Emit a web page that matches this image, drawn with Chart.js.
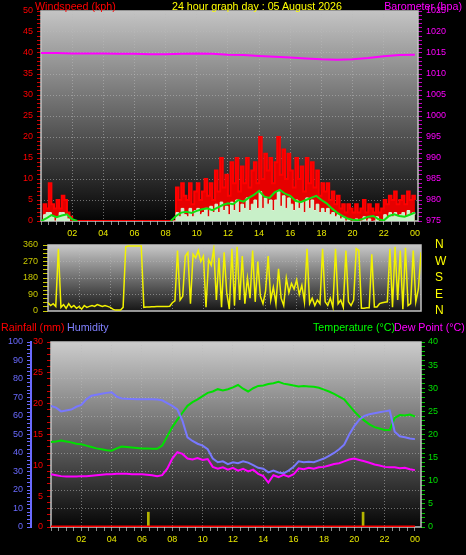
<!DOCTYPE html>
<html><head><meta charset="utf-8">
<script src="https://cdn.jsdelivr.net/npm/chart.js@4.4.1/dist/chart.umd.min.js"></script>
<style>
html,body{margin:0;padding:0;background:#000;width:466px;height:555px;overflow:hidden;}
canvas{position:absolute;left:0;}
.h{position:absolute;font:10.7px "Liberation Sans",Arial,sans-serif;line-height:12px;white-space:nowrap;z-index:5;}
</style></head><body>
<canvas id="c1" width="466" height="245" style="top:0;width:466px;height:245px"></canvas>
<canvas id="c2" width="466" height="80" style="top:238px;width:466px;height:80px"></canvas>
<canvas id="c3" width="466" height="220" style="top:335px;width:466px;height:220px"></canvas>
<div class="h" style="left:35px;top:0;color:#ff0000">Windspeed (kph)</div>
<div class="h" style="left:172px;top:0;color:#ffff00">24 hour graph day : 05 August 2026</div>
<div class="h" style="right:4px;top:0;color:#ff00ff">Barometer (hpa)</div>
<div class="h" style="left:1px;top:321px;color:#ff0000">Rainfall (mm)</div>
<div class="h" style="left:67px;top:321px;color:#8080ff">Humidity</div>
<div class="h" style="left:313px;top:321px;color:#00ff00">Temperature (°C)</div>
<div class="h" style="left:394px;top:321px;color:#ff00ff">Dew Point (°C)</div>
<script>
// ===== DATA =====
// hour axis tick labels (every 2 h)
const hourLabels = ['', '02', '04', '06', '08', '10', '12', '14', '16', '18', '20', '22', '00'];
// compass labels for wind direction (0, 90, 180, 270, 360)
const compass = ['N', 'E', 'S', 'W', 'N'];

// wind gust, kph, every 10 min from 00:00 to 24:00
const windGust = [
  0,4,3,9,4,3,5,3,6,5,2,1,
  0,0,0,0,0,0,0,0,0,0,0,0,
  0,0,0,0,0,0,0,0,0,0,0,0,
  0,0,0,0,0,0,0,0,0,0,0,0,
  0,0,0,0,8,5,9,6,5,9,4,7,
  9,5,7,10,6,9,5,12,7,15,8,11,
  6,14,9,15,7,13,9,15,8,12,14,9,
  20,10,16,12,15,9,14,20,11,17,10,16,
  12,8,15,10,13,7,15,9,14,8,12,6,
  9,7,9,5,7,4,6,3,4,2,4,3,
  2,4,2,3,5,2,4,3,2,4,2,3,
  5,4,6,5,7,4,5,6,4,7,5,6,
  5
];
// average wind speed, kph, every 10 min
const windAvg = [
  0,1.5,2,2,1,0,1,2,2,1.5,0.5,0,
  0,0,0,0,0,0,0,0,0,0,0,0,
  0,0,0,0,0,0,0,0,0,0,0,0,
  0,0,0,0,0,0,0,0,0,0,0,0,
  0,0,0,0,2,1,3,1.5,1,3,1,2.5,
  3,1.5,2,3,1,3.5,2,4,2,4.5,2.5,3.5,
  1.5,4.5,2.5,5,2,4,3,5.5,2.5,4,5,3,
  7,3,5.5,4,5,2.5,5,7,3.5,6,3,5.5,
  4,2.5,5,3,4.5,2,5.5,3,5,2.5,4,2,
  3,2,3,1.5,2,1,1.5,0.5,1,0,0.5,0,
  0,0.5,0,0,1,0,0.5,0,0,1,0,0,
  1.5,1,2,1,2,1,1.5,2,1,2.5,1.5,2,
  1.5
];
// smoothed average wind, kph, every 20 min
const windAvgSmooth = [
  0,0.6,1.4,0.9,1.3,1.6,
  0.4,0,0,0,0,0,
  0,0,0,0,0,0,
  0,0,0,0,0,0,
  0,0,1.2,2.0,2.2,1.9,
  2.4,2.8,3.0,2.6,3.2,3.8,
  4.2,4.0,5.0,4.6,5.5,6.2,
  7.2,5.8,5.5,6.8,7.4,6.5,
  6.0,4.8,4.5,5.0,5.5,6.0,
  5.0,4.2,3.0,2.0,1.2,0.6,
  0.3,0.2,0.5,1.0,1.2,0.4,
  0.1,1.2,1.6,1.2,1.0,1.5,
  2.0
];
// barometer, hPa, hourly
const barometer = [1015.0,1015.0,1014.9,1014.9,1014.9,1014.8,1014.8,1014.7,1014.7,1014.8,1014.9,1014.8,
  1014.6,1014.5,1014.3,1014.1,1013.9,1013.7,1013.5,1013.4,1013.5,1013.8,1014.2,1014.5,1014.6];
// wind direction, degrees, every 10 min
const windDir = [
  45,30,40,25,340,20,35,15,40,20,30,15,
  25,10,30,20,25,30,25,35,30,25,30,25,
  20,10,5,5,5,20,350,355,355,355,355,355,
  355,20,22,22,23,23,24,24,25,25,25,26,
  45,55,330,60,80,300,320,40,310,290,330,270,
  300,20,280,250,340,60,290,20,320,100,10,340,
  30,350,60,300,40,180,70,330,50,270,80,40,
  110,300,60,130,40,230,70,30,180,100,150,120,
  170,90,140,50,340,40,70,30,60,40,340,50,
  30,70,20,340,40,60,20,330,50,30,60,340,
  330,15,15,18,18,310,22,22,40,45,48,50,
  340,20,350,60,330,10,345,30,40,330,50,120,
  320
];
// temperature, °C, every 20 min
const temperature = [
  18.4,18.5,18.7,18.5,18.3,18.0,
  17.9,17.6,17.3,17.0,16.8,16.6,
  16.5,17.0,17.4,17.3,17.2,17.1,
  17.0,17.0,16.9,16.9,17.6,19.6,
  21.6,23.2,24.7,26.2,27.0,27.6,
  28.3,29.0,29.3,29.8,29.5,29.8,
  30.2,30.7,29.9,29.3,30.0,30.5,
  30.6,30.9,31.1,31.4,31.0,30.8,
  30.6,30.4,30.5,30.4,30.3,30.1,
  29.7,29.3,28.8,28.2,27.6,26.3,
  25.0,23.9,23.0,22.2,21.6,21.3,
  21.0,21.0,23.6,24.2,24.1,24.3,
  23.9
];
// humidity, %, every 20 min
const humidity = [
  65.5,64.5,62.5,63.0,63.5,65.0,
  66.0,69.0,71.0,71.5,72.0,72.5,
  72.8,70.5,69.5,69.3,69.2,69.0,
  69.0,69.0,69.0,68.9,68.5,67.0,
  65.5,63.5,57.5,48.5,46.5,45.0,
  44.0,42.0,37.0,35.0,35.5,34.0,
  35.0,34.5,35.5,34.8,33.5,32.0,
  31.5,29.5,30.5,29.5,29.0,30.5,
  32.5,35.5,35.0,35.3,35.0,36.0,
  37.0,38.5,40.0,42.0,44.5,50.0,
  54.5,58.0,60.0,61.0,61.5,62.0,
  62.5,63.0,51.5,49.0,48.5,47.8,
  47.5
];
// dew point, °C, every 20 min
const dewPoint = [
  11.4,11.2,11.0,10.9,10.9,10.9,
  11.0,11.0,11.1,11.2,11.3,11.4,
  11.4,11.5,11.5,11.5,11.4,11.4,
  11.4,11.3,11.2,11.0,11.2,12.6,
  14.8,16.2,15.8,14.8,14.6,14.9,
  14.5,14.7,13.0,12.6,12.9,12.4,
  12.8,12.2,12.6,12.0,12.4,11.5,
  11.0,9.6,11.2,10.8,11.3,10.9,
  11.4,12.7,12.5,12.8,12.6,12.9,
  13.0,13.3,13.6,13.8,14.2,14.6,
  14.8,14.5,14.2,13.9,13.5,13.3,
  13.0,12.9,12.9,12.7,12.8,12.5,
  12.3
];
// rainfall total, mm, hourly
const rainTotal = [0,0,0,0,0,0,0,0,0,0,0,0,0,0,0,0,0,0,0,0,0,0,0,0,0];
// rain rate bars: time (h) and value (mm)
const rainRateTimes = [6.42, 20.58];
const rainRate = [2.4, 2.4];

// ===== HELPERS =====
const FONT = {family: '"Liberation Sans", Arial, sans-serif', size: 9};
const gridCol = 'rgba(185,185,185,0.55)';
const xy = (arr, step) => arr.map((v, i) => ({x: i * step, y: v}));
const fixW = w => s => { s.width = w; s.paddingTop = 0; s.paddingBottom = 0; };
const fixH = h => s => { s.height = h; s.paddingLeft = 0; s.paddingRight = 0; };
function hourTick(v) {
  const r = Math.round(v);
  if (Math.abs(v - r) > 1e-6 || r % 2) return '';
  return hourLabels[r / 2] || '';
}
function hourGrid(c) {
  const v = c.tick.value, r = Math.round(v);
  return (Math.abs(v - r) < 1e-6 && r % 2 === 0 && r > 0 && r < 24) ? gridCol : 'transparent';
}
const every = (n, lo, hi) => c => {
  const v = c.tick.value;
  return (Math.abs(v / n - Math.round(v / n)) < 1e-6 && v > lo && v < hi) ? gridCol : 'transparent';
};
const labelEvery = n => v => (Math.abs(v / n - Math.round(v / n)) < 1e-6) ? String(Math.round(v)) : '';

const bgPlugin = {
  id: 'bg',
  beforeDraw(chart, args, o) {
    const {ctx, chartArea: a} = chart;
    const g = ctx.createLinearGradient(0, a.top, 0, a.bottom);
    g.addColorStop(0, o.top);
    g.addColorStop(1, o.bottom);
    ctx.save();
    ctx.fillStyle = g;
    ctx.fillRect(a.left, a.top, a.right - a.left, a.bottom - a.top);
    ctx.restore();
  },
  beforeDatasetsDraw(chart) {
    const {ctx, chartArea: a} = chart;
    ctx.save();
    ctx.strokeStyle = '#c4c4c4';
    ctx.lineWidth = 1.5;
    ctx.strokeRect(a.left, a.top, a.right - a.left, a.bottom - a.top);
    ctx.restore();
  }
};
const common = {
  responsive: false, animation: false, events: [],
  elements: {point: {radius: 0}, line: {tension: 0}},
};
// hide flat zero segments of the smoothed wind line (the gust baseline shows there)
const hideZero = c => (c.p0.parsed.y === 0 && c.p1.parsed.y === 0) ? 'transparent' : undefined;

// ===== CHART 1: wind + barometer =====
new Chart(document.getElementById('c1'), {
  type: 'line',
  data: {datasets: [
    {label: 'Barometer', data: xy(barometer, 1), yAxisID: 'baro', borderColor: '#ff00ff', borderWidth: 2, order: 0},
    {label: 'Wind avg (smoothed)', data: xy(windAvgSmooth, 1 / 3), yAxisID: 'wind', borderColor: '#10e010', borderWidth: 2, order: 1,
      segment: {borderColor: hideZero}},
    {label: 'Wind avg', data: xy(windAvg, 1 / 6), yAxisID: 'wind', stepped: true, fill: 'origin', backgroundColor: '#c8f0c8', borderColor: '#d6f6d6', borderWidth: 1, order: 2,
      segment: {borderColor: hideZero}},
    {label: 'Wind gust', data: xy(windGust, 1 / 6), yAxisID: 'wind', stepped: true, fill: 'origin', backgroundColor: '#e60000', borderColor: '#ff0000', borderWidth: 2, order: 3}
  ]},
  options: Object.assign({}, common, {
    layout: {padding: {top: 11, left: 0, right: 0, bottom: 0}},
    plugins: {legend: {display: false}, tooltip: {enabled: false}, bg: {top: '#c4c4c4', bottom: '#040404'}},
    scales: {
      x: {type: 'linear', min: 0, max: 24.2, afterFit: fixH(24),
        ticks: {stepSize: 0.5, includeBounds: false, autoSkip: false, maxRotation: 0, color: '#e8e800', font: FONT, padding: 3, callback: hourTick},
        grid: {color: hourGrid, tickColor: '#8c8c8c', tickLength: 4}, border: {display: false, dash: [1, 2]}},
      wind: {position: 'left', min: 0, max: 50, afterFit: fixW(41),
        ticks: {stepSize: 1, autoSkip: false, color: '#ff0000', font: FONT, padding: 4, callback: labelEvery(5)},
        grid: {color: every(5, 0, 50), tickColor: '#d00000', tickLength: 4}, border: {display: false, dash: [1, 2]}},
      baro: {position: 'right', min: 975, max: 1025, afterFit: fixW(48),
        ticks: {stepSize: 1, autoSkip: false, color: '#ff00ff', font: FONT, padding: 4, callback: labelEvery(5)},
        grid: {drawOnChartArea: false, tickColor: '#c000c0', tickLength: 4}, border: {display: false}}
    }
  }),
  plugins: [bgPlugin]
});

// ===== CHART 2: wind direction =====
new Chart(document.getElementById('c2'), {
  type: 'line',
  data: {datasets: [
    {label: 'Wind direction', data: xy(windDir, 1 / 6), yAxisID: 'dir', borderColor: '#f2f200', borderWidth: 1.5}
  ]},
  options: Object.assign({}, common, {
    layout: {padding: {top: 7, left: 0, right: 0, bottom: 0}},
    plugins: {legend: {display: false}, tooltip: {enabled: false}, bg: {top: '#c8c8c8', bottom: '#161616'}},
    scales: {
      x: {type: 'linear', min: 0, max: 24, afterFit: fixH(7),
        ticks: {display: false, stepSize: 0.5, includeBounds: false},
        grid: {color: hourGrid, drawTicks: false}, border: {display: false, dash: [1, 2]}},
      dir: {position: 'left', min: 0, max: 360, afterFit: fixW(48),
        ticks: {stepSize: 22.5, autoSkip: false, color: '#c8c800', font: FONT, padding: 5, callback: labelEvery(90)},
        grid: {color: every(90, 0, 360), tickColor: '#c8c800', tickLength: 5}, border: {display: false, dash: [1, 2]}},
      dirR: {position: 'right', min: 0, max: 360, afterFit: fixW(45),
        ticks: {stepSize: 90, autoSkip: false, color: '#ffff00', font: {family: FONT.family, size: 12}, padding: 14,
          callback: v => compass[Math.round(v / 90)]},
        grid: {drawOnChartArea: false, drawTicks: false}, border: {display: false}}
    }
  }),
  plugins: [bgPlugin]
});

// ===== CHART 3: temperature, humidity, dew point, rain =====
new Chart(document.getElementById('c3'), {
  type: 'line',
  data: {datasets: [
    {label: 'Rain total', data: xy(rainTotal, 1), yAxisID: 'rain', borderColor: '#ff0000', borderWidth: 3, order: 0},
    {label: 'Dew point', data: xy(dewPoint, 1 / 3), yAxisID: 'temp', borderColor: '#ff00ff', borderWidth: 2, order: 1},
    {label: 'Humidity', data: xy(humidity, 1 / 3), yAxisID: 'hum', borderColor: '#7878ff', borderWidth: 2, order: 2},
    {label: 'Temperature', data: xy(temperature, 1 / 3), yAxisID: 'temp', borderColor: '#00e000', borderWidth: 2, order: 3},
    {type: 'bar', label: 'Rain rate', data: rainRateTimes.map((t, i) => ({x: t, y: rainRate[i]})), yAxisID: 'rain',
      backgroundColor: '#b4b400', barThickness: 2, order: 4}
  ]},
  options: Object.assign({}, common, {
    layout: {padding: {top: 7, left: 0, right: 0, bottom: 0}},
    plugins: {legend: {display: false}, tooltip: {enabled: false}, bg: {top: '#cccccc', bottom: '#060606'}},
    scales: {
      x: {type: 'linear', min: 0, max: 24.4, offset: false, afterFit: fixH(28),
        ticks: {stepSize: 0.5, includeBounds: false, autoSkip: false, maxRotation: 0, color: '#e8e800', font: FONT, padding: 3, callback: hourTick},
        grid: {color: hourGrid, tickColor: '#8c8c8c', tickLength: 4, offset: false}, border: {display: false, dash: [1, 2]}},
      hum: {position: 'left', weight: 1, min: 0, max: 100, afterFit: fixW(31),
        ticks: {stepSize: 2, autoSkip: false, color: '#6a6aff', font: FONT, padding: 4, callback: labelEvery(10)},
        grid: {color: every(10, 0, 100), tickColor: '#6a6aff', tickLength: 4},
        border: {display: true, color: '#6a6aff', width: 2, dash: [1, 2]}},
      rain: {position: 'left', weight: 0, min: 0, max: 30, afterFit: fixW(20),
        ticks: {stepSize: 1, autoSkip: false, color: '#ff0000', font: FONT, padding: 4, callback: labelEvery(5)},
        grid: {drawOnChartArea: false, tickColor: '#d00000', tickLength: 4}, border: {display: false}},
      temp: {position: 'right', min: 0, max: 40, afterFit: fixW(45),
        ticks: {stepSize: 1, autoSkip: false, color: '#00e000', font: FONT, padding: 3, callback: labelEvery(5)},
        grid: {drawOnChartArea: false, tickColor: '#00c000', tickLength: 4}, border: {display: false}}
    }
  }),
  plugins: [bgPlugin]
});
</script>
</body></html>
